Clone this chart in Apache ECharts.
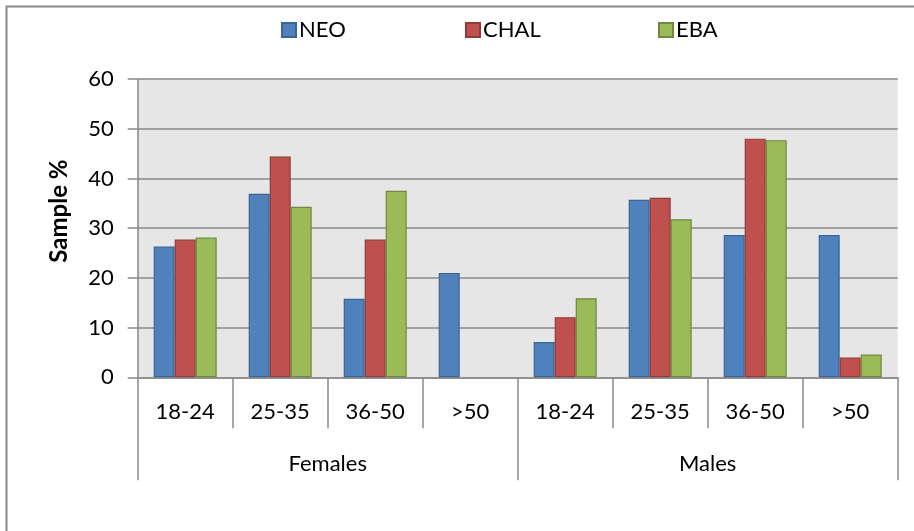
<!DOCTYPE html>
<html>
<head>
<meta charset="utf-8">
<script src="https://cdn.jsdelivr.net/npm/echarts@6/dist/echarts.min.js"></script>
<style>
html,body{margin:0;padding:0;background:#fff;}
#c{width:914px;height:531px;}
</style>
</head>
<body>
<div id="c"></div>
<script>
const ageGroups = ['18-24','25-35','36-50','>50','18-24','25-35','36-50','>50'];
const sexGroups = ['Females','Males'];
const seriesNames = ['NEO','CHAL','EBA'];
const neo  = [26.3, 36.9, 15.8, 21.0, 7.1, 35.7, 28.6, 28.6];
const chal = [27.7, 44.4, 27.7, 0, 12.1, 36.1, 48.0, 4.0];
const eba  = [28.1, 34.3, 37.5, 0, 15.9, 31.8, 47.7, 4.6];
const yTicks = [0, 60, 10];

const fills = ['#4F81BD','#C0504D','#9BBB59'];
const borders = ['#3A6494','#8E3B39','#71893F'];
const values = [neo, chal, eba];
const FONT = 'Lato, "Open Sans", sans-serif';
const gridColor = '#8A8A8A';

const chart = echarts.init(document.getElementById('c'), null, {renderer:'canvas'});
const legendLefts = [281, 465, 658];

chart.setOption({
  animation: false,
  backgroundColor: '#fff',
  graphic: [{
    type: 'rect', silent: true, z: -10,
    shape: {x: 6.5, y: 6.5, width: 920, height: 540},
    style: {fill: 'none', stroke: '#8A8A8A', lineWidth: 2}
  }],
  legend: seriesNames.map((n, i) => ({
    data: [n], left: legendLefts[i], top: 19, padding: 0, itemWidth: 14, itemHeight: 14, itemGap: 4,
    icon: 'rect',
    textStyle: {fontFamily: FONT, fontSize: 22, color: '#000', padding: [0,0,0,-2]}
  })),
  grid: {
    left: 137.7, right: 16.3, top: 79, bottom: 153.7,
    show: true, backgroundColor: '#E6E6E6', borderWidth: 0
  },
  xAxis: [{
    type: 'category', data: ageGroups, position: 'bottom',
    axisLine: {show: true, lineStyle: {color: gridColor, width: 1.5}},
    axisTick: {show: true, interval: 0, length: 51, lineStyle: {color: gridColor, width: 1.5}},
    axisLabel: {interval: 0, margin: 35, verticalAlign: 'middle', fontFamily: FONT, fontSize: 22, color: '#000'},
    splitLine: {show: false}
  }, {
    type: 'category', data: sexGroups, position: 'bottom',
    axisLine: {show: false},
    axisTick: {show: true, interval: 0, length: 103, lineStyle: {color: gridColor, width: 1.5}},
    axisLabel: {interval: 0, margin: 87, verticalAlign: 'middle', fontFamily: FONT, fontSize: 22, color: '#000'},
    splitLine: {show: false}
  }],
  yAxis: {
    type: 'value', min: yTicks[0], max: yTicks[1], interval: yTicks[2],
    name: 'Sample %', nameLocation: 'middle', nameGap: 66, nameRotate: 90,
    nameTextStyle: {fontFamily: FONT, fontSize: 24, fontWeight: 'bold', color: '#000', padding: [0,0,0,34]},
    axisLine: {show: true, lineStyle: {color: gridColor, width: 1.5}},
    axisTick: {show: true, inside: false, length: 10, lineStyle: {color: gridColor, width: 1.5}},
    axisLabel: {margin: 24, fontFamily: FONT, fontSize: 22, color: '#000'},
    splitLine: {show: true, lineStyle: {color: gridColor, width: 1.5}}
  },
  series: seriesNames.map((n, i) => ({
    name: n, type: 'bar', xAxisIndex: 0,
    data: values[i].map(v => (v === 0 ? null : v)),
    barWidth: 21, barGap: '0%',
    itemStyle: {color: fills[i], borderColor: borders[i], borderWidth: 1.2}
  }))
});
</script>
</body>
</html>
